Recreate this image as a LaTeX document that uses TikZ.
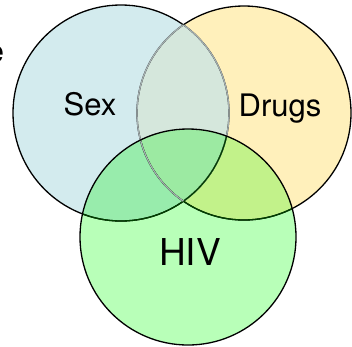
\documentclass[tikz,border=0pt]{standalone}
\usepackage{fontspec}
\setmainfont{TeX Gyre Heros}
\definecolor{sexblue}{RGB}{211,235,238}
\definecolor{drugyel}{RGB}{255,240,187}
\definecolor{sexdrug}{RGB}{213,231,220}
\definecolor{hivgrn}{RGB}{184,255,184}
\definecolor{sexhiv}{RGB}{152,236,172}
\definecolor{drughiv}{RGB}{194,242,138}
\definecolor{allthree}{RGB}{156,234,162}
\begin{document}
\begin{tikzpicture}[x=1pt,y=-1pt,
    ring/.style={line width=1.3pt},
    lbl/.style={inner sep=0pt,anchor=base,font=\fontsize{31}{31}\selectfont}]
    \useasboundingbox (0,0) rectangle (352,346);
    \coordinate (sexc) at (121,113);
    \coordinate (drgc) at (244,113);
    \coordinate (hivc) at (188,237);
    % fills
    \fill[sexblue] (sexc) circle (108);
    \fill[drugyel] (drgc) circle (107);
    \begin{scope}
        \clip (sexc) circle (108);
        \fill[sexdrug] (drgc) circle (107);
    \end{scope}
    \fill[hivgrn] (hivc) circle (108);
    \begin{scope}
        \clip (hivc) circle (108);
        \fill[sexhiv] (sexc) circle (108);
        \fill[drughiv] (drgc) circle (107);
        \clip (sexc) circle (108);
        \fill[allthree] (drgc) circle (107);
    \end{scope}
    % outlines
    \draw[ring] (sexc) circle (108);
    \draw[ring] (drgc) circle (107);
    \begin{scope}
        \clip (drgc) circle (107);
        \draw[ring,draw=sexblue!45!gray] (sexc) circle (108);
    \end{scope}
    \begin{scope}
        \clip (hivc) circle (108);
        \draw[ring,draw=black!75!green] (sexc) circle (108);
        \draw[ring,draw=black!75!green] (drgc) circle (107);
    \end{scope}
    \begin{scope}
        \clip (sexc) circle (108);
        \draw[ring,draw=sexblue!45!gray] (drgc) circle (107);
    \end{scope}
    \draw[ring] (hivc) circle (108);
    % labels
    \node[lbl] (cut) at (-4.5,62) {e};
    \node[lbl] (sex) at (90,115) {Sex};
    \node[lbl] (drugs) at (280,116) {Drugs};
    \node[lbl,font=\fontsize{37}{37}\selectfont] (hiv) at (190,265) {HIV};
\end{tikzpicture}
\end{document}
